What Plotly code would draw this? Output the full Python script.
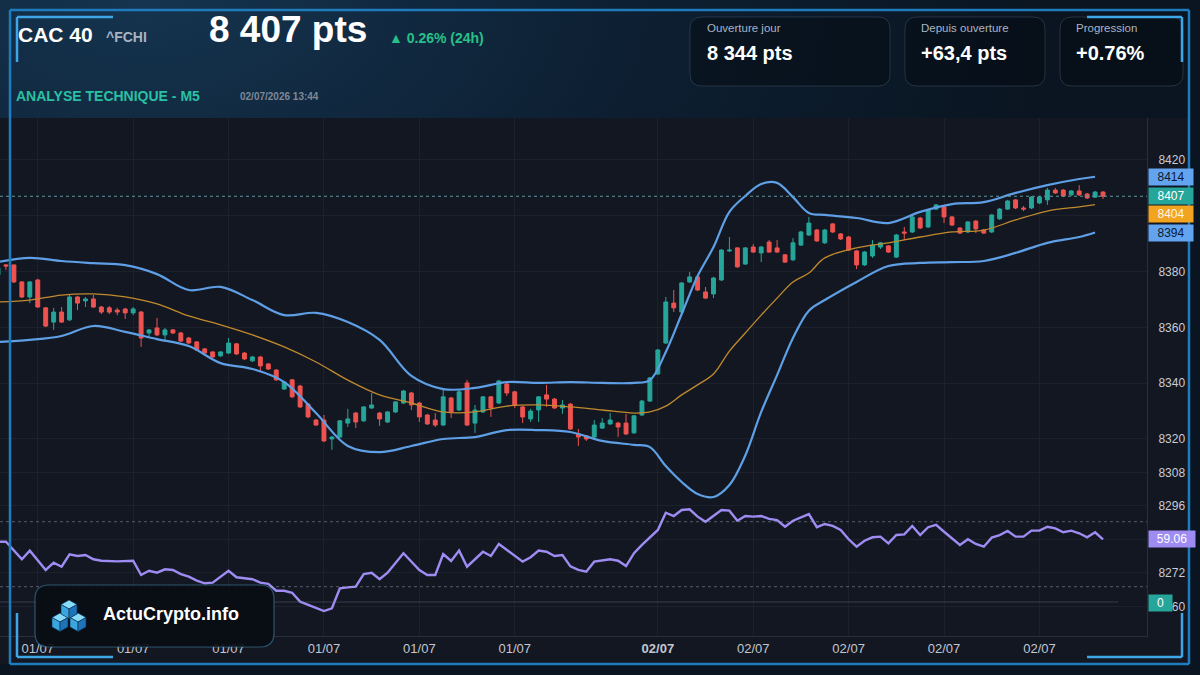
import base64
import plotly.graph_objects as go

W, H = 1200, 675
FONT = "Liberation Sans, Arial, sans-serif"

# ---------------- data ----------------
bar_idx = list(range(140))
open_ = [8378.8, 8382.4, 8382.4, 8376.3, 8370.9, 8377.0, 8367.0, 8361.9, 8365.5, 8362.7,
         8370.9, 8369.5, 8370.2, 8367.3, 8367.0, 8366.2, 8366.6, 8365.2, 8365.5, 8358.0,
         8359.8, 8357.3, 8359.1, 8358.0, 8356.2, 8354.8, 8352.3, 8351.2, 8349.8, 8350.8,
         8354.1, 8350.8, 8348.0, 8349.4, 8346.9, 8344.7, 8337.9, 8341.2, 8339.0, 8332.5,
         8326.8, 8326.8, 8320.0, 8320.7, 8325.7, 8329.3, 8326.5, 8331.1, 8329.3, 8326.1,
         8329.7, 8332.9, 8336.5, 8332.9, 8328.6, 8326.8, 8325.0, 8334.7, 8330.4, 8340.1,
         8325.7, 8329.7, 8335.1, 8332.9, 8339.7, 8336.9, 8331.5, 8327.2, 8330.4, 8335.8,
         8334.3, 8331.1, 8332.5, 8321.8, 8321.1, 8320.7, 8323.9, 8325.4, 8325.7, 8325.7,
         8322.2, 8328.6, 8333.6, 8343.3, 8354.4, 8368.7, 8365.5, 8376.3, 8378.1, 8372.7,
         8372.0, 8377.0, 8387.4, 8388.5, 8382.7, 8388.8, 8386.7, 8390.6, 8388.5, 8386.0,
         8384.2, 8389.5, 8393.1, 8394.9, 8390.3, 8397.1, 8393.5, 8392.4, 8387.4, 8382.4,
         8385.6, 8388.8, 8389.2, 8385.2, 8394.2, 8394.2, 8399.2, 8396.0, 8402.4, 8403.2,
         8399.6, 8395.6, 8394.2, 8398.1, 8394.9, 8394.2, 8398.9, 8402.4, 8405.7, 8402.8,
         8402.8, 8404.6, 8405.7, 8409.2, 8409.2, 8407.5, 8408.9, 8407.8, 8406.7, 8408.5]
high_ = [8382.4, 8382.7, 8382.4, 8376.6, 8376.6, 8377.4, 8367.3, 8367.0, 8367.3, 8371.6,
         8371.3, 8370.9, 8371.6, 8367.7, 8367.7, 8367.0, 8367.0, 8367.3, 8365.9, 8359.4,
         8363.4, 8359.8, 8359.4, 8358.4, 8356.6, 8355.1, 8352.6, 8351.5, 8351.5, 8356.2,
         8354.4, 8351.2, 8349.8, 8349.8, 8347.2, 8345.1, 8340.8, 8341.5, 8339.4, 8332.9,
         8327.2, 8328.6, 8321.1, 8326.8, 8330.8, 8329.7, 8331.8, 8336.5, 8329.7, 8330.0,
         8333.6, 8337.6, 8336.9, 8333.3, 8329.0, 8329.3, 8337.6, 8335.1, 8337.6, 8341.2,
         8332.2, 8335.4, 8335.4, 8341.2, 8340.1, 8337.2, 8331.8, 8330.8, 8335.4, 8339.4,
         8334.7, 8334.0, 8332.9, 8323.6, 8321.4, 8326.8, 8327.5, 8329.3, 8326.1, 8329.0,
         8328.6, 8334.0, 8342.2, 8352.3, 8370.9, 8373.4, 8376.3, 8379.9, 8378.4, 8374.5,
         8378.1, 8388.1, 8392.4, 8388.8, 8388.8, 8389.9, 8389.2, 8391.3, 8391.3, 8386.3,
         8392.0, 8394.6, 8399.6, 8395.3, 8395.3, 8397.4, 8393.8, 8392.8, 8387.7, 8387.4,
         8391.3, 8390.6, 8389.5, 8393.5, 8396.0, 8399.9, 8399.6, 8402.4, 8404.2, 8403.5,
         8399.9, 8396.0, 8398.1, 8398.5, 8395.3, 8400.6, 8402.8, 8405.7, 8406.0, 8403.5,
         8407.1, 8407.1, 8410.0, 8410.0, 8409.6, 8409.2, 8411.0, 8408.2, 8408.9, 8408.9]
low_ = [8377.7, 8380.6, 8375.9, 8370.5, 8368.7, 8367.0, 8360.1, 8359.1, 8361.6, 8362.3,
        8366.2, 8367.3, 8367.0, 8364.8, 8364.8, 8364.4, 8363.0, 8364.4, 8353.0, 8356.2,
        8356.9, 8354.8, 8357.6, 8354.8, 8354.1, 8351.5, 8350.5, 8349.1, 8349.4, 8350.5,
        8350.1, 8348.3, 8347.6, 8344.4, 8344.7, 8340.8, 8337.6, 8334.7, 8331.1, 8327.5,
        8324.7, 8318.9, 8316.1, 8320.4, 8324.3, 8323.9, 8326.1, 8330.8, 8324.7, 8325.7,
        8329.3, 8332.5, 8330.4, 8326.1, 8325.0, 8324.3, 8324.7, 8327.5, 8330.0, 8324.7,
        8322.2, 8329.3, 8327.9, 8332.5, 8335.4, 8331.1, 8325.7, 8326.1, 8326.1, 8331.5,
        8330.8, 8329.0, 8323.2, 8317.5, 8319.3, 8320.4, 8323.6, 8325.0, 8320.7, 8321.4,
        8321.8, 8328.3, 8333.3, 8342.9, 8354.1, 8365.5, 8365.2, 8375.9, 8373.0, 8370.2,
        8370.5, 8376.6, 8387.0, 8381.3, 8382.4, 8386.7, 8383.4, 8386.7, 8386.7, 8383.1,
        8383.8, 8389.2, 8392.8, 8390.6, 8389.9, 8393.8, 8391.3, 8387.4, 8380.9, 8382.0,
        8384.9, 8388.1, 8386.7, 8384.9, 8391.3, 8393.8, 8395.3, 8395.6, 8402.1, 8397.4,
        8396.3, 8393.5, 8393.8, 8393.8, 8393.5, 8393.8, 8398.5, 8402.1, 8402.4, 8401.7,
        8402.4, 8404.2, 8403.9, 8407.8, 8406.7, 8407.1, 8407.1, 8406.0, 8406.4, 8406.0]
close_ = [8381.3, 8382.0, 8376.3, 8370.9, 8376.3, 8367.3, 8360.5, 8365.5, 8361.9, 8370.9,
          8368.7, 8370.2, 8367.3, 8365.5, 8365.5, 8365.5, 8365.2, 8366.6, 8356.2, 8359.1,
          8357.3, 8359.1, 8358.0, 8355.1, 8354.4, 8351.9, 8350.8, 8349.4, 8351.2, 8354.4,
          8350.5, 8348.7, 8349.4, 8346.2, 8345.1, 8341.2, 8340.4, 8335.1, 8331.5, 8327.9,
          8325.0, 8319.3, 8320.7, 8326.5, 8327.2, 8326.1, 8331.5, 8332.2, 8327.2, 8329.7,
          8333.3, 8337.2, 8332.2, 8327.9, 8325.4, 8325.0, 8335.1, 8329.7, 8336.9, 8325.0,
          8330.4, 8335.1, 8331.1, 8340.8, 8336.5, 8332.2, 8327.9, 8330.0, 8335.1, 8334.3,
          8331.1, 8332.2, 8323.6, 8320.7, 8320.0, 8325.0, 8325.7, 8326.8, 8324.3, 8321.8,
          8328.3, 8333.6, 8341.9, 8351.9, 8369.1, 8367.0, 8375.9, 8378.1, 8373.4, 8370.5,
          8377.7, 8387.7, 8387.7, 8381.7, 8388.5, 8387.0, 8388.8, 8387.0, 8387.0, 8383.4,
          8390.3, 8394.2, 8397.4, 8391.0, 8394.9, 8394.2, 8391.7, 8387.7, 8382.4, 8387.0,
          8389.5, 8390.3, 8387.0, 8393.1, 8393.8, 8399.6, 8395.6, 8402.1, 8403.9, 8399.6,
          8396.7, 8393.8, 8397.8, 8395.3, 8393.8, 8400.3, 8402.4, 8405.3, 8402.8, 8402.4,
          8406.7, 8406.7, 8409.2, 8408.2, 8407.1, 8408.9, 8407.5, 8406.4, 8408.5, 8407.0]

bb_x = [0, 4, 8, 12, 16, 20, 24, 28, 32, 36, 40, 44, 48, 52, 56, 60, 64, 68, 72, 76, 80,
        82, 84, 86, 88, 90, 92, 94, 96, 98, 100, 102, 104, 108, 112, 116, 120, 124, 128,
        132, 136, 138]
bb_upper = [8383.4, 8384.9, 8383.8, 8383.0, 8382.3, 8379.1, 8373.4, 8374.5, 8369.8, 8364.4,
            8365.2, 8361.9, 8355.5, 8342.6, 8337.9, 8338.3, 8340.4, 8340.1, 8340.4, 8340.1,
            8340.1, 8341.1, 8351.2, 8364.8, 8378.4, 8388.8, 8401.4, 8407.1, 8411.4, 8411.8,
            8406.7, 8401.0, 8400.3, 8399.2, 8397.4, 8401.4, 8404.2, 8404.9, 8408.2, 8411.0,
            8413.2, 8414.0]
bb_mid = [8369.1, 8369.8, 8371.6, 8372.0, 8370.9, 8368.4, 8364.1, 8360.9, 8357.3, 8353.0,
          8347.6, 8341.1, 8335.8, 8332.9, 8329.7, 8329.7, 8331.8, 8332.2, 8331.5, 8330.4,
          8329.3, 8329.7, 8331.8, 8335.8, 8339.4, 8343.3, 8351.5, 8358.0, 8364.4, 8370.5,
          8376.3, 8379.5, 8384.9, 8388.5, 8390.3, 8392.4, 8394.2, 8394.9, 8398.5, 8401.7,
          8403.2, 8404.0]
bb_lower = [8354.8, 8355.5, 8356.9, 8360.5, 8358.4, 8355.8, 8353.3, 8347.2, 8345.1, 8340.4,
            8329.3, 8317.5, 8315.3, 8317.5, 8320.0, 8320.7, 8323.2, 8323.2, 8322.5, 8319.3,
            8317.9, 8317.1, 8310.3, 8304.6, 8300.3, 8299.2, 8303.5, 8314.1, 8329.7, 8342.9,
            8356.2, 8366.0, 8369.8, 8376.3, 8382.0, 8383.1, 8383.4, 8383.8, 8386.7, 8390.3,
            8392.4, 8394.0]

rsi_x = [0, 1, 3, 4, 6, 7, 8, 9, 10, 11, 12, 13, 15, 17, 18, 19, 20, 21, 22, 23, 24, 25, 26,
         27, 29, 30, 32, 33, 34, 35, 36, 37, 38, 39, 41, 42, 43, 44, 45, 46, 47, 48, 49, 51,
         53, 54, 55, 56, 57, 58, 59, 61, 62, 63, 66, 67, 68, 69, 70, 71, 72, 73, 74, 75, 77,
         78, 79, 80, 81, 83, 84, 85, 86, 87, 88, 89, 90, 91, 92, 93, 94, 95, 96, 97, 98, 99,
         100, 102, 103, 104, 105, 106, 107, 108, 109, 110, 111, 112, 113, 114, 115, 116, 117,
         118, 119, 120, 121, 122, 123, 124, 125, 126, 127, 128, 129, 130, 131, 132, 133, 134,
         135, 136, 137, 138, 139]
rsi_val = [57.7, 57.7, 46.9, 52.2, 40.3, 44.8, 42.3, 49.9, 48.9, 49.5, 46.9, 46.0, 45.6, 46.0,
           37.2, 39.8, 38.6, 40.7, 40.3, 37.8, 36.2, 33.7, 32.1, 32.5, 39.8, 35.8, 34.6, 32.5,
           31.7, 27.5, 27.5, 26.3, 20.8, 18.7, 15.0, 16.7, 29.0, 29.6, 30.0, 37.8, 38.6, 34.6,
           38.6, 50.6, 40.3, 37.2, 37.2, 50.1, 45.8, 52.2, 42.3, 51.5, 48.9, 56.3, 45.4, 48.1,
           52.2, 51.5, 48.9, 49.5, 42.5, 40.3, 39.2, 45.4, 46.9, 46.0, 42.7, 50.6, 55.7, 64.9,
           75.5, 73.5, 77.2, 77.6, 73.1, 70.0, 73.5, 77.2, 76.8, 70.6, 73.5, 73.1, 73.5, 71.7,
           71.0, 66.9, 70.6, 74.7, 66.6, 68.6, 67.4, 64.9, 59.2, 54.6, 58.3, 60.4, 60.8, 56.7,
           61.8, 62.2, 67.4, 61.8, 66.6, 68.0, 63.8, 59.8, 55.7, 59.2, 56.3, 54.6, 60.2, 61.8,
           64.3, 60.8, 60.8, 64.5, 64.5, 66.9, 65.9, 63.5, 64.5, 62.9, 60.4, 63.5, 59.06]

x_tick_pos = [5, 17, 29, 41, 53, 65, 83, 95, 107, 119, 131]
x_tick_text = ["01/07", "01/07", "01/07", "01/07", "01/07", "01/07",
               "<b>02/07</b>", "02/07", "02/07", "02/07", "02/07"]
y_tick_vals = [8420, 8400, 8380, 8360, 8340, 8320, 8308, 8296, 8284, 8272, 8260]

last_price = 8407
upper_last, mid_last, lower_last = 8414, 8404, 8394
rsi_last = 59.06
rsi_levels = [70, 30]

# ---------------- helpers (layout only) ----------------
def px(x):
    return x / W


def py(y):
    return 1 - y / H


PLOT_L, PLOT_R, PLOT_T, PLOT_B = 0, 1147, 118, 636
BG_CHART = "#131722"

fig = go.Figure()

fig.add_trace(go.Scatter(x=bb_x, y=bb_upper, mode="lines", line=dict(color="#5e9fe6", width=2.2, shape="spline"),
                         hoverinfo="skip", showlegend=False))
fig.add_trace(go.Scatter(x=bb_x, y=bb_lower, mode="lines", line=dict(color="#5e9fe6", width=2.2, shape="spline"),
                         hoverinfo="skip", showlegend=False))
fig.add_trace(go.Scatter(x=bb_x, y=bb_mid, mode="lines", line=dict(color="#c08a2d", width=1.3, shape="spline"),
                         hoverinfo="skip", showlegend=False))
fig.add_trace(go.Candlestick(
    x=bar_idx, open=open_, high=high_, low=low_, close=close_,
    increasing=dict(line=dict(color="#26a69a", width=1), fillcolor="#26a69a"),
    decreasing=dict(line=dict(color="#ef5350", width=1), fillcolor="#ef5350"),
    whiskerwidth=0, showlegend=False, hoverinfo="skip"))
fig.add_trace(go.Scatter(x=rsi_x, y=rsi_val, mode="lines", yaxis="y2",
                         line=dict(color="#9e8cf3", width=2.4), hoverinfo="skip", showlegend=False))

shapes = []
annotations = []

# chart panel background
shapes.append(dict(type="rect", xref="paper", yref="paper", x0=px(0), x1=px(1189), y0=py(664), y1=py(PLOT_T),
                   fillcolor=BG_CHART, line=dict(width=0), layer="below"))

# last price dotted line
shapes.append(dict(type="line", xref="paper", yref="y", x0=px(PLOT_L), x1=px(PLOT_R), y0=last_price, y1=last_price,
                   line=dict(color="#5f9a9c", width=1, dash="dot")))
# RSI levels
for lv in rsi_levels:
    shapes.append(dict(type="line", xref="paper", yref="y2", x0=px(PLOT_L), x1=px(PLOT_R), y0=lv, y1=lv,
                       line=dict(color="rgba(170,176,190,0.45)", width=1, dash="dot")))
# histogram baseline
shapes.append(dict(type="line", xref="paper", yref="paper", x0=px(PLOT_L), x1=px(1118), y0=py(602), y1=py(602),
                   line=dict(color="rgba(120,128,145,0.35)", width=1)))


def rounded(x0, y0, x1, y1, r):
    X0, X1 = px(x0), px(x1)
    Y0, Y1 = py(y0), py(y1)
    rx, ry = r / W, r / H
    return (f"M {X0 + rx},{Y0} L {X1 - rx},{Y0} Q {X1},{Y0} {X1},{Y0 - ry} "
            f"L {X1},{Y1 + ry} Q {X1},{Y1} {X1 - rx},{Y1} L {X0 + rx},{Y1} "
            f"Q {X0},{Y1} {X0},{Y1 + ry} L {X0},{Y0 - ry} Q {X0},{Y0} {X0 + rx},{Y0} Z")


# stat boxes
for (x0, x1) in [(690, 890), (905, 1045), (1060, 1183)]:
    shapes.append(dict(type="path", xref="paper", yref="paper", path=rounded(x0, 17, x1, 86, 12),
                       fillcolor="rgba(6,12,20,0.55)", line=dict(color="rgba(140,160,185,0.22)", width=1)))

# logo box
shapes.append(dict(type="path", xref="paper", yref="paper", path=rounded(35, 585, 274, 647, 14),
                   fillcolor="rgba(9,13,20,0.92)", line=dict(color="rgba(70,140,180,0.55)", width=1.2),
                   layer="above"))


def cube(cx, y0, w=8):
    def P(pts):
        return "M " + " L ".join(f"{px(a)},{py(b)}" for a, b in pts) + " Z"
    top = P([(cx, y0), (cx + w, y0 + 4.5), (cx, y0 + 9), (cx - w, y0 + 4.5)])
    left = P([(cx - w, y0 + 4.5), (cx, y0 + 9), (cx, y0 + 18.5), (cx - w, y0 + 14)])
    right = P([(cx, y0 + 9), (cx + w, y0 + 4.5), (cx + w, y0 + 14), (cx, y0 + 18.5)])
    out = []
    for pth, col in [(top, "#86dcf8"), (left, "#3aa6e0"), (right, "#1e73bb")]:
        out.append(dict(type="path", xref="paper", yref="paper", path=pth, fillcolor=col,
                        line=dict(color="#0c2c48", width=0.6), layer="above"))
    return out


shapes += cube(60, 613)
shapes += cube(78, 613)
shapes += cube(69, 600)

# frame lines
FRAME = "#1f7cbc"
ACC = "#3da6e6"
for (a, b, c, d) in [(10, 10, 1189, 10), (10, 10, 10, 664), (1189, 10, 1189, 664), (10, 664, 1189, 664)]:
    shapes.append(dict(type="line", xref="paper", yref="paper", x0=px(a), y0=py(b), x1=px(c), y1=py(d),
                       line=dict(color=FRAME, width=2.5), layer="above"))
for (a, b, c, d) in [(17, 17, 113, 17), (17, 17, 17, 62), (1087, 17, 1182, 17), (1182, 17, 1182, 62),
                     (17, 613, 17, 657), (17, 657, 113, 657), (1182, 613, 1182, 657), (1087, 657, 1182, 657)]:
    shapes.append(dict(type="line", xref="paper", yref="paper", x0=px(a), y0=py(b), x1=px(c), y1=py(d),
                       line=dict(color=ACC, width=2.5), layer="above"))


def text(x, y, s, size, color, bold=False, xanchor="left"):
    annotations.append(dict(xref="paper", yref="paper", x=px(x), y=py(y), text=(f"<b>{s}</b>" if bold else s),
                            showarrow=False, xanchor=xanchor, yanchor="middle",
                            font=dict(family=FONT, size=size, color=color)))


text(16, 34, "CAC 40", 21, "#ffffff", bold=True)
text(104, 37, "^FCHI", 14, "#a9b4c5", bold=True)
text(207, 30, "8 407 pts", 37, "#ffffff", bold=True)
text(387, 38, "▲ 0.26% (24h)", 14, "#27c08a", bold=True)
text(14, 96, "ANALYSE TECHNIQUE - M5", 14, "#2ac0a4", bold=True)
text(238, 97, "02/07/2026 13:44", 10, "#7d8898", bold=True)

text(705, 28, "Ouverture jour", 11.5, "#aab4c3")
text(705, 53, "8 344 pts", 20, "#ffffff", bold=True)
text(919, 28, "Depuis ouverture", 11.5, "#aab4c3")
text(919, 53, "+63,4 pts", 20, "#ffffff", bold=True)
text(1074, 28, "Progression", 11.5, "#aab4c3")
text(1074, 53, "+0.76%", 20, "#ffffff", bold=True)

annotations.append(dict(xref="paper", yref="paper", x=px(101), y=py(614), text="<b>ActuCrypto.info</b>",
                        showarrow=False, xanchor="left", yanchor="middle",
                        font=dict(family=FONT, size=18, color="#ffffff")))


def badge(val, yref, ypos, bg, fg, w=42):
    annotations.append(dict(xref="paper", yref=yref, x=px(1148), y=ypos, xanchor="left", yanchor="middle",
                            text=str(val), showarrow=False,
                            bgcolor=bg, width=w, height=14, borderpad=1, align="center",
                            font=dict(family=FONT, size=12, color=fg)))


badge(upper_last, "y", upper_last, "#62a4f0", "#0c1a30")
badge(last_price, "y", last_price, "#26a69a", "#ffffff")
# middle-band label is pushed below the last-price label to avoid overlap (as in the reference)
badge(mid_last, "paper", py(214.5), "#f2a31f", "#fff6e6")
badge(lower_last, "y", lower_last, "#62a4f0", "#0c1a30")
badge(rsi_last, "y2", rsi_last, "#9f8cf2", "#ffffff", w=44)
annotations.append(dict(xref="paper", yref="paper", x=px(1148), y=py(603), xanchor="left", yanchor="middle",
                        text="0", showarrow=False, bgcolor="#26a69a", width=21, height=14, borderpad=1,
                        font=dict(family=FONT, size=12, color="#ffffff")))

# header gradient
svg = ('<svg xmlns="http://www.w3.org/2000/svg" width="1200" height="675">'
       '<defs><radialGradient id="g" cx="0.12" cy="0.0" r="0.75">'
       '<stop offset="0" stop-color="#15344f"/><stop offset="0.55" stop-color="#0d1f32"/>'
       '<stop offset="1" stop-color="#0a1521"/></radialGradient></defs>'
       '<rect width="1200" height="675" fill="url(#g)"/></svg>')
src = "data:image/svg+xml;base64," + base64.b64encode(svg.encode()).decode()

fig.update_layout(
    width=W, height=H,
    margin=dict(l=0, r=0, t=0, b=0),
    paper_bgcolor="#0b1724",
    plot_bgcolor=BG_CHART,
    images=[dict(source=src, xref="paper", yref="paper", x=0, y=1, sizex=1, sizey=1,
                 sizing="stretch", layer="below", xanchor="left", yanchor="top")],
    shapes=shapes,
    annotations=annotations,
    showlegend=False,
    hovermode=False,
    xaxis=dict(domain=[px(PLOT_L), px(PLOT_R)], range=[0.25, 144.53], rangeslider=dict(visible=False),
               tickmode="array", tickvals=x_tick_pos, ticktext=x_tick_text,
               tickfont=dict(family=FONT, size=13, color="#c3c7d0"),
               showgrid=True, gridcolor="#1d212b", gridwidth=1, zeroline=False,
               showline=True, linecolor="#2a2e39", ticks="", fixedrange=True),
    yaxis=dict(domain=[py(PLOT_B), py(PLOT_T)], range=[8249.39, 8435.05], side="right",
               tickmode="array", tickvals=y_tick_vals, ticklabelstandoff=8,
               tickfont=dict(family=FONT, size=12, color="#c8ccd4"),
               showgrid=True, gridcolor="#1d212b", zeroline=False,
               showline=True, linecolor="#2a2e39", ticks="", fixedrange=True),
    yaxis2=dict(overlaying="y", side="right", range=[-0.34, 318.43], showgrid=False, zeroline=False,
                showticklabels=False, showline=False, fixedrange=True),
)

fig.write_html("out.html")
